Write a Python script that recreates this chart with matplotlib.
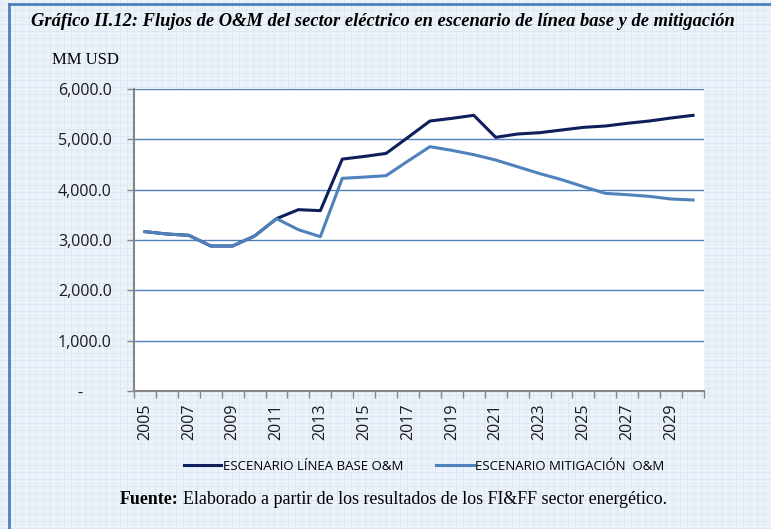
import matplotlib
matplotlib.use('Agg')
import matplotlib.pyplot as plt
from matplotlib.lines import Line2D
from matplotlib.ticker import FuncFormatter, FixedLocator
import numpy as np

years = list(range(2005, 2031))
base_om = [3166, 3119, 3093, 2881, 2881, 3079, 3424, 3603, 3583, 4607, 4660, 4720,
           5040, 5364, 5417, 5477, 5040, 5106, 5132, 5185, 5238, 5265, 5318, 5364, 5424, 5477]
mitig_om = [3166, 3119, 3093, 2881, 2881, 3079, 3424, 3205, 3066, 4225, 4250, 4278,
            4570, 4854, 4781, 4695, 4589, 4455, 4320, 4200, 4060, 3927, 3900, 3867, 3814, 3795]
yticks = [0, 1000, 2000, 3000, 4000, 5000, 6000]
xlabels = [str(y) for y in years[::2]]
series_names = ['ESCENARIO LÍNEA BASE O&M', 'ESCENARIO MITIGACIÓN  O&M']
title = 'Gráfico II.12: Flujos de O&M del sector eléctrico en escenario de línea base y de mitigación'
unit = 'MM USD'

W, H = 771, 529
fig = plt.figure(figsize=(W / 100, H / 100), dpi=100)
fig.patch.set_facecolor('#ECF2FA')

# graph-paper background
for xx in np.arange(1, W, 7):
    fig.add_artist(Line2D([xx / W, xx / W], [0, 1], transform=fig.transFigure,
                          color='#DCE6F3', lw=0.6, zorder=-10))
for yy in np.arange(1, H, 7):
    fig.add_artist(Line2D([0, 1], [yy / H, yy / H], transform=fig.transFigure,
                          color='#DCE6F3', lw=0.6, zorder=-10))
# border
fig.add_artist(Line2D([8.5 / W, 8.5 / W], [0, 1 - 4 / H], transform=fig.transFigure,
                      color='#4F81BD', lw=2, zorder=-5))
fig.add_artist(Line2D([8.5 / W, 1], [1 - 4 / H, 1 - 4 / H], transform=fig.transFigure,
                      color='#4F81BD', lw=2, zorder=-5))

ax = fig.add_axes([134 / W, 1 - 391 / H, 570 / W, 302 / H])
ax.set_facecolor('white')
x = np.arange(len(years))
ax.plot(x, base_om, color='#0E1F5B', lw=2.2, label=series_names[0], zorder=3)
ax.plot(x, mitig_om, color='#4F81BD', lw=2.2, label=series_names[1], zorder=4)

ax.set_xlim(-0.5, len(years) - 0.5)
ax.set_ylim(0, 6000)
ax.set_yticks(yticks)
ax.yaxis.set_major_formatter(FuncFormatter(lambda v, p: '-       ' if v == 0 else f'{v:,.1f}'))
ax.yaxis.grid(True, color='#4F81BD', lw=1)
ax.set_axisbelow(True)

ax.xaxis.set_major_locator(FixedLocator(x[::2]))
ax.set_xticklabels(xlabels, rotation=90)
ax.xaxis.set_minor_locator(FixedLocator(np.arange(-0.5, len(years), 1)))
ax.tick_params(axis='x', which='major', length=0, pad=9)
ax.tick_params(axis='x', which='minor', length=5, color='#868686', width=1)
ax.tick_params(axis='y', length=5, color='#868686', width=1, pad=11)

for s in ['top', 'right']:
    ax.spines[s].set_visible(False)
for s in ['left', 'bottom']:
    ax.spines[s].set_color('#868686')
    ax.spines[s].set_linewidth(1.5)

for lab in ax.get_xticklabels() + ax.get_yticklabels():
    lab.set_family('Open Sans')
    lab.set_fontsize(11.5)
    lab.set_color('#1A1A1A')

fig.text(383 / W, 1 - 21 / H, title, ha='center', va='center',
         family='Liberation Serif', style='italic', weight='bold', fontsize=13.3)
fig.text(52 / W, 1 - 60 / H, unit, ha='left', va='center',
         family='Liberation Serif', fontsize=12)

h, l = ax.get_legend_handles_labels()
fig.legend(h, l, loc='center', bbox_to_anchor=(424 / W, 1 - 466 / H), ncol=2,
           frameon=False, handlelength=2.85, handletextpad=0.1, columnspacing=2.5,
           prop={'family': 'Open Sans', 'size': 9.5})

t1 = fig.text(120 / W, 1 - 500 / H, 'Fuente:', ha='left', va='center',
              family='Liberation Serif', weight='bold', fontsize=12.9)
fig.canvas.draw()
bb = t1.get_window_extent()
fig.text((bb.x1 + 4) / W, 1 - 500 / H,
         'Elaborado a partir de los resultados de los FI&FF sector energético.',
         ha='left', va='center', family='Liberation Serif', fontsize=12.9)

fig.savefig('out.png', dpi=100, facecolor=fig.get_facecolor())
